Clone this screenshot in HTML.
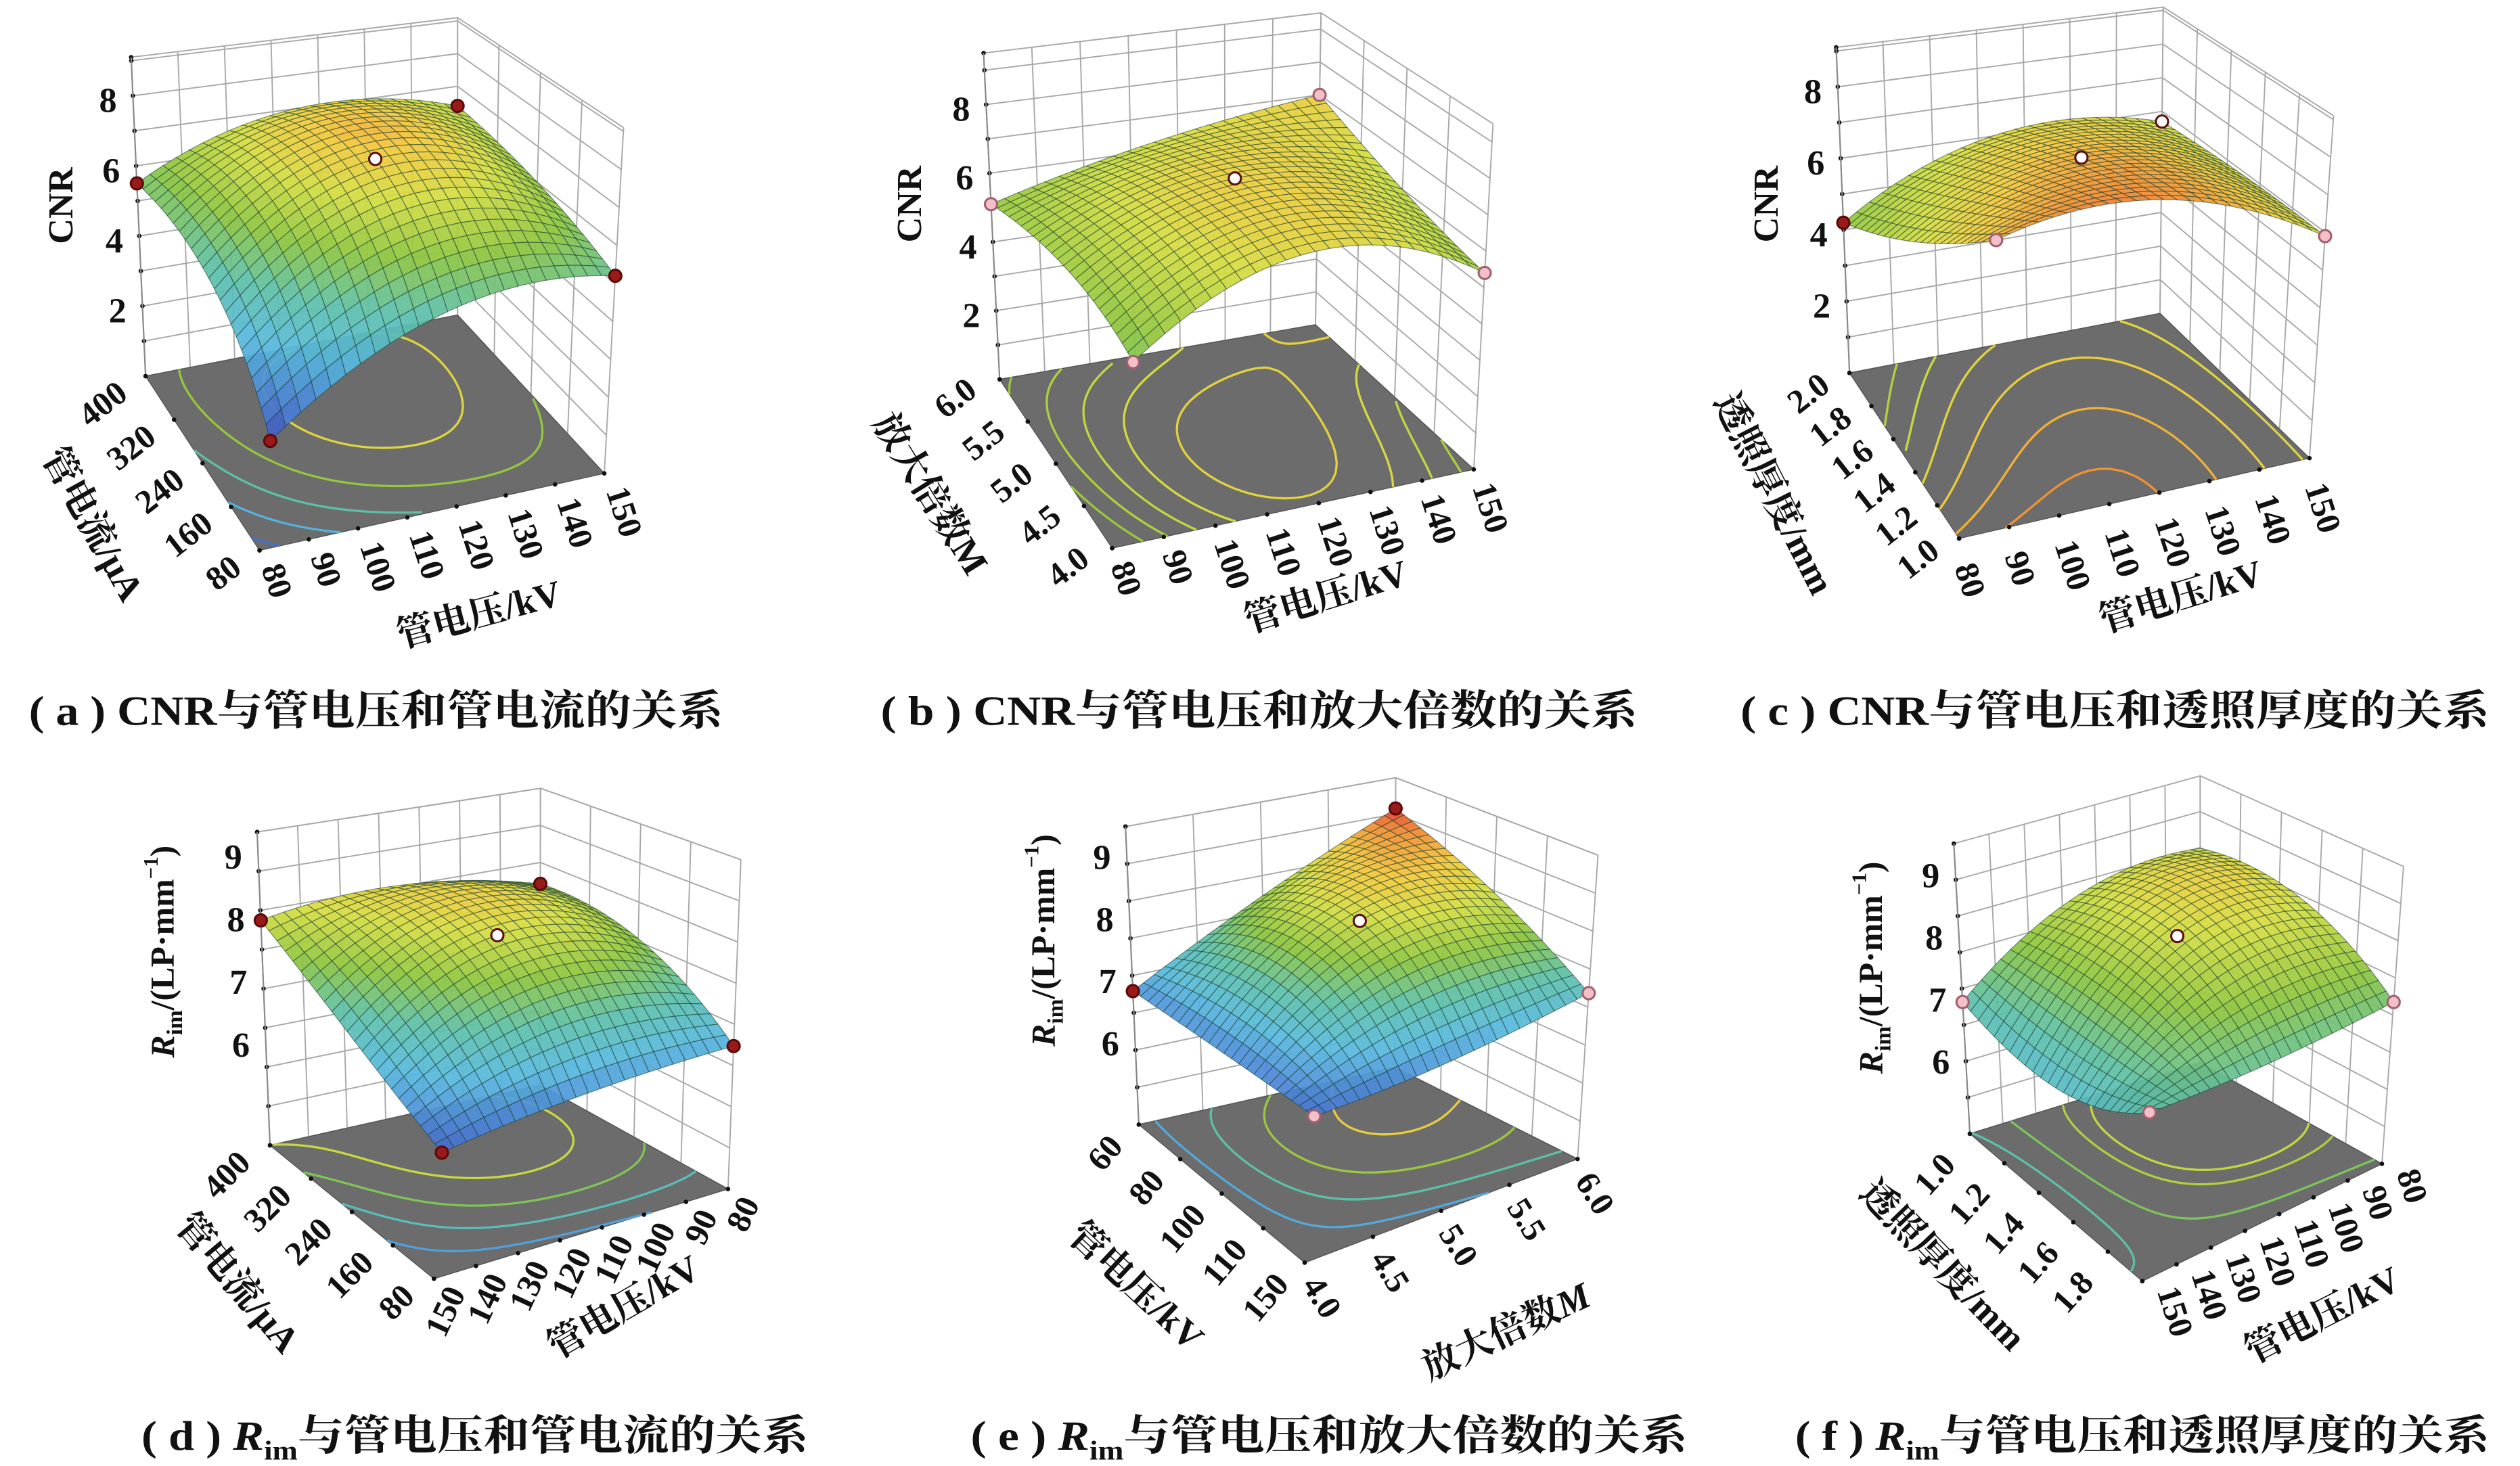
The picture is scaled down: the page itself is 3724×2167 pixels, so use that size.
<!DOCTYPE html>
<html><head><meta charset="utf-8">
<style>
html,body{margin:0;padding:0;background:#fff}
svg{display:block}
text{font-family:"Liberation Serif","Noto Serif CJK SC",serif;fill:#111;font-weight:bold}
</style></head>
<body>
<svg id="fig" xmlns="http://www.w3.org/2000/svg" width="3724" height="2167" viewBox="0 0 1568 912" preserveAspectRatio="none">
<rect width="1568" height="912" fill="#fff"/>
<g id="pa"></g>
<g id="pb"></g>
<g id="pc"></g>
<g id="pd"></g>
<g id="pe"></g>
<g id="pf"></g>

<!-- z-axis titles -->
<text font-size="22" text-anchor="middle" dominant-baseline="central" transform="translate(38,128) rotate(-90)">CNR</text>
<text font-size="22" text-anchor="middle" dominant-baseline="central" transform="translate(566,127) rotate(-90)">CNR</text>
<text font-size="22" text-anchor="middle" dominant-baseline="central" transform="translate(1099,127) rotate(-90)">CNR</text>
<text font-size="21" text-anchor="middle" dominant-baseline="central" transform="translate(101,592) rotate(-90)"><tspan font-style="italic">R</tspan><tspan font-size="14" baseline-shift="sub">im</tspan>/(LP·mm<tspan font-size="13" baseline-shift="super">−1</tspan>)</text>
<text font-size="21" text-anchor="middle" dominant-baseline="central" transform="translate(649,585) rotate(-90)"><tspan font-style="italic">R</tspan><tspan font-size="14" baseline-shift="sub">im</tspan>/(LP·mm<tspan font-size="13" baseline-shift="super">−1</tspan>)</text>
<text font-size="21" text-anchor="middle" dominant-baseline="central" transform="translate(1164,602) rotate(-90)"><tspan font-style="italic">R</tspan><tspan font-size="14" baseline-shift="sub">im</tspan>/(LP·mm<tspan font-size="13" baseline-shift="super">−1</tspan>)</text>

<!-- floor axis titles -->
<text font-size="23" text-anchor="middle" dominant-baseline="central" transform="translate(298,382) rotate(-15)">管电压/kV</text>
<text font-size="23" text-anchor="middle" dominant-baseline="central" transform="translate(58,326) rotate(61)">管电流/μA</text>
<text font-size="23" text-anchor="middle" dominant-baseline="central" transform="translate(825,371) rotate(-17)">管电压/kV</text>
<text font-size="23" text-anchor="middle" dominant-baseline="central" transform="translate(579,307) rotate(58)">放大倍数M</text>
<text font-size="23" text-anchor="middle" dominant-baseline="central" transform="translate(1357,371) rotate(-17)">管电压/kV</text>
<text font-size="23" text-anchor="middle" dominant-baseline="central" transform="translate(1104,307) rotate(63)">透照厚度/mm</text>
<text font-size="23" text-anchor="middle" dominant-baseline="central" transform="translate(388,813) rotate(-30)">管电压/kV</text>
<text font-size="23" text-anchor="middle" dominant-baseline="central" transform="translate(148,798) rotate(50)">管电流/μA</text>
<text font-size="23" text-anchor="middle" dominant-baseline="central" transform="translate(937,828) rotate(-25)">放大倍数<tspan font-style="italic">M</tspan></text>
<text font-size="23" text-anchor="middle" dominant-baseline="central" transform="translate(707,800) rotate(43)">管电压/kV</text>
<text font-size="23" text-anchor="middle" dominant-baseline="central" transform="translate(1445,818) rotate(-27)">管电压/kV</text>
<text font-size="23" text-anchor="middle" dominant-baseline="central" transform="translate(1209,787) rotate(46)">透照厚度/mm</text>

<!-- captions -->
<text x="18" y="451" font-size="26" textLength="432" lengthAdjust="spacingAndGlyphs">( a ) CNR与管电压和管电流的关系</text>
<text x="548" y="451" font-size="26" textLength="471" lengthAdjust="spacingAndGlyphs">( b ) CNR与管电压和放大倍数的关系</text>
<text x="1083" y="451" font-size="26" textLength="466" lengthAdjust="spacingAndGlyphs">( c ) CNR与管电压和透照厚度的关系</text>
<text x="88" y="902" font-size="26" textLength="415" lengthAdjust="spacingAndGlyphs">( d ) <tspan font-style="italic">R</tspan><tspan font-size="17" dy="6">im</tspan><tspan dy="-6">与管电压和管电流的关系</tspan></text>
<text x="604" y="902" font-size="26" textLength="446" lengthAdjust="spacingAndGlyphs">( e ) <tspan font-style="italic">R</tspan><tspan font-size="17" dy="6">im</tspan><tspan dy="-6">与管电压和放大倍数的关系</tspan></text>
<text x="1117" y="902" font-size="26" textLength="432" lengthAdjust="spacingAndGlyphs">( f ) <tspan font-style="italic">R</tspan><tspan font-size="17" dy="6">im</tspan><tspan dy="-6">与管电压和透照厚度的关系</tspan></text>
</svg>

<script>
// ---------- data ----------
const voltTicks = ['80','90','100','110','120','130','140','150'];
const voltTicksRev = ['150','140','130','120','110','100','90','80'];
const voltTicksE = ['150','110','100','80','60'];
const currTicks = ['80','160','240','320','400'];
const magTicks = ['4.0','4.5','5.0','5.5','6.0'];
const thickTicks = ['1.0','1.2','1.4','1.6','1.8','2.0'];
const thickTicksF = ['','1.8','1.6','1.4','1.2','1.0'];
const cnrTicks = [2, 4, 6, 8];
const rimTicks = [6, 7, 8, 9];

// response surface heights on a 3x3 design grid (rows: front->back along left axis, cols: front->right)
const surfA = [[2.6, 5.0, 5.2], [4.8, 7.3, 6.0], [5.5, 7.0, 6.4]];
const surfB = [[4.6, 6.7, 5.4], [5.3, 7.0, 6.0], [5.1, 6.25, 7.0]];
const surfC = [[7.1, 7.5, 5.9], [5.5, 7.06, 5.9], [4.2, 6.05, 5.7]];
const surfD = [[6.08, 6.4, 6.57], [6.88, 8.04, 7.57], [7.99, 8.17, 7.79]];
const surfE = [[6.66, 6.87, 7.32], [6.75, 8.27, 8.27], [6.85, 7.97, 8.99]];
const surfF = [[7.12, 7.17, 7.39], [6.6, 8.28, 8.31], [6.97, 8.15, 8.34]];

const levelsA = [3, 4, 5, 6, 7];
const levelsB = [5.2, 5.6, 6.0, 6.4, 6.8];
const levelsC = [5.0, 5.5, 6.0, 6.5, 7.0, 7.4];
const levelsD = [6.5, 7.0, 7.5, 8.0];
const levelsE = [7.0, 7.5, 8.0, 8.5];
const levelsF = [7.0, 7.5, 8.0, 8.2];

// design points: [u, v, kind]
const ptsA = [[0,0,'r'],[1,0,'r'],[1,1,'r'],[0,1,'r'],[0.5,0.5,'w']];
const ptsB = [[0,0,'p'],[1,0,'p'],[1,1,'p'],[0,1,'p'],[0.5,0.5,'w']];
const ptsC = [[0,0,'p'],[1,0,'p'],[1,1,'w'],[0,1,'r'],[0.5,0.5,'w']];
const ptsD = [[0,0,'r'],[1,0,'r'],[1,1,'r'],[0,1,'r'],[0.5,0.5,'w']];
const ptsE = [[0,0,'p'],[1,0,'p'],[1,1,'r'],[0,1,'r'],[0.5,0.5,'w']];
const ptsF = [[0,0,'p'],[1,0,'p'],[0,1,'p'],[0.5,0.5,'w']];

// ---------- geometry / style ----------
const panels = [
 {id:'pa', floor:{F:[161.5,342.4],R:[376,294.5],B:[284.7,196],L:[90.6,234]}, top:{L:[81.6,35.6],B:[284.7,11],R:[388,79.4]},
  zmin:0, zmax:9.1, zStep:1, grid:surfA, cmin:2.3, cmax:8.3, levels:levelsA, pts:ptsA, zTicks:cnrTicks, zLabOff:3, nL:7, nR:4,
  fr:{labels:voltTicks, off:[1,11], rot:72, anchor:'start'}, fl:{labels:currTicks, off:[-10,13], rot:-38, anchor:'end'}},
 {id:'pb', floor:{F:[692,341],R:[917,292],B:[818.5,202],L:[622,236]}, top:{L:[612,33],B:[822,8],R:[929,77]},
  zmin:0, zmax:9.5, zStep:1, grid:surfB, cmin:-0.5, cmax:8.6, levels:levelsB, pts:ptsB, zTicks:cnrTicks, zLabOff:3, nL:7, nR:4,
  fr:{labels:voltTicks, off:[-1,11], rot:72, anchor:'start'}, fl:{labels:magTicks, off:[-13,9], rot:-38, anchor:'end'}},
 {id:'pc', floor:{F:[1219,335],R:[1437,285],B:[1344,195],L:[1150.8,232]}, top:{L:[1142.5,29.5],B:[1346,4.4],R:[1452,72]},
  zmin:0, zmax:9.1, zStep:1, grid:surfC, cmin:-1.8, cmax:8.2, levels:levelsC, pts:ptsC, zTicks:cnrTicks, zLabOff:3, nL:7, nR:5,
  fr:{labels:voltTicks, off:[-3,18], rot:72, anchor:'start'}, fl:{labels:thickTicks, off:[-11,10], rot:-38, anchor:'end'}},
 {id:'pd', floor:{F:[270,795.5],R:[453,739.7],B:[336,675],L:[168,712.5]}, top:{L:[160,517.6],B:[336.3,490.4],R:[461,534.8]},
  zmin:4.4, zmax:9.4, zStep:0.625, grid:surfD, cmin:5.77, cmax:8.84, levels:levelsD, pts:ptsD, zTicks:rimTicks, zLabOff:0, nL:7, nR:4,
  fr:{labels:voltTicksRev, off:[20,9], rot:-65, anchor:'end'}, fl:{labels:currTicks, off:[-11,12], rot:-45, anchor:'end'}},
 {id:'pe', floor:{F:[811.8,785.5],R:[981.6,721],B:[868,664],L:[708.6,699.6]}, top:{L:[700.3,514.2],B:[868.4,483.8],R:[994.3,532]},
  zmin:4.7, zmax:9.5, zStep:0.6, grid:surfE, cmin:6.3, cmax:8.99, levels:levelsE, pts:ptsE, zTicks:rimTicks, zLabOff:0, nL:4, nR:4,
  fr:{labels:magTicks, off:[-2,14], rot:58, anchor:'start'}, fl:{labels:voltTicksE, off:[-9,14], rot:-50, anchor:'end'}},
 {id:'pf', floor:{F:[1333,797],R:[1482.1,724],B:[1369,661],L:[1225.7,705.3]}, top:{L:[1215.7,524.8],B:[1369,482.7],R:[1495.5,539]},
  zmin:4.85, zmax:9.52, zStep:0.584, grid:surfF, cmin:5.08, cmax:9.43, levels:levelsF, pts:ptsF, zTicks:rimTicks, zLabOff:0, nL:7, nR:5,
  fr:{labels:voltTicksRev, off:[9,6], rot:72, anchor:'start'}, fl:{labels:thickTicksF, off:[-8,20], rot:-48, anchor:'end'}}
];

const cmapStops = [[0,[59,52,168]],[0.15,[74,127,214]],[0.3,[86,184,222]],[0.45,[92,192,168]],[0.6,[140,196,60]],
                   [0.75,[212,220,64]],[0.85,[242,200,58]],[0.93,[240,138,48]],[1,[224,58,40]]];

const NS = 'http://www.w3.org/2000/svg';
function mk(tag, attrs, parent){
  const el = document.createElementNS(NS, tag);
  for (const k in attrs) el.setAttribute(k, attrs[k]);
  parent.appendChild(el);
  return el;
}
function cmap(t){
  t = Math.max(0, Math.min(1, t));
  for (let i = 1; i < cmapStops.length; i++){
    if (t <= cmapStops[i][0]){
      const a = cmapStops[i-1], b = cmapStops[i];
      const f = (t - a[0]) / (b[0] - a[0]);
      const c = a[1].map((v, k) => Math.round(v + (b[1][k] - v) * f));
      return 'rgb(' + c.join(',') + ')';
    }
  }
  return 'rgb(224,58,40)';
}
function bil(c, u, v){
  return [(1-u)*(1-v)*c.F[0] + u*(1-v)*c.R[0] + u*v*c.B[0] + (1-u)*v*c.L[0],
          (1-u)*(1-v)*c.F[1] + u*(1-v)*c.R[1] + u*v*c.B[1] + (1-u)*v*c.L[1]];
}
function lag(t){ return [2*(t-0.5)*(t-1), -4*t*(t-1), 2*t*(t-0.5)]; }
function surf(g, u, v){
  const lu = lag(u), lv = lag(v);
  let s = 0;
  for (let j = 0; j < 3; j++) for (let i = 0; i < 3; i++) s += g[j][i] * lu[i] * lv[j];
  return s;
}
function fmt(p){ return p[0].toFixed(2) + ',' + p[1].toFixed(2); }

panels.forEach(P => {
  const g = document.getElementById(P.id);
  const T = {L:P.top.L, B:P.top.B, R:P.top.R,
             F:[P.top.L[0] + P.top.R[0] - P.top.B[0], P.top.L[1] + P.top.R[1] - P.top.B[1]]};
  const proj = (u, v, z) => {
    const f = bil(P.floor, u, v), t = bil(T, u, v);
    const k = (z - P.zmin) / (P.zmax - P.zmin);
    return [f[0] + (t[0] - f[0]) * k, f[1] + (t[1] - f[1]) * k];
  };

  // walls
  const walls = mk('g', {stroke:'#a8a8a8', 'stroke-width':0.8, fill:'none'}, g);
  
  
  for (let k = 0; k <= P.nL; k++){
    const u = k / P.nL;
    const ln = mk('line', {}, walls);
    const a = proj(u, 1, P.zmin), b = proj(u, 1, P.zmax);
    ln.setAttribute('x1', a[0]); ln.setAttribute('y1', a[1]); ln.setAttribute('x2', b[0]); ln.setAttribute('y2', b[1]);
    
    
  }
  for (let k = 0; k <= P.nR; k++){
    const v = k / P.nR;
    const ln = mk('line', {}, walls);
    const a = proj(1, v, P.zmin), b = proj(1, v, P.zmax);
    ln.setAttribute('x1', a[0]); ln.setAttribute('y1', a[1]); ln.setAttribute('x2', b[0]); ln.setAttribute('y2', b[1]);
    
    
  }
  const zLevels = [];
  for (let z = P.zmin; z <= P.zmax + 1e-6; z += P.zStep) zLevels.push(z);
  zLevels.push(P.zmax);
  zLevels.forEach(z => {
    const pl = mk('polyline', {points: fmt(proj(0,1,z)) + ' ' + fmt(proj(1,1,z)) + ' ' + fmt(proj(1,0,z))}, walls);
    
    
    const p = proj(0, 1, z);
    const d = mk('circle', {cx:p[0], cy:p[1], r:1.4, fill:'#111', stroke:'none'}, g);
    
    
  });
  const zl = mk('line', {}, g);
  const za = proj(0,1,P.zmin), zb = proj(0,1,P.zmax);
  zl.setAttribute('x1', za[0]); zl.setAttribute('y1', za[1]); zl.setAttribute('x2', zb[0]); zl.setAttribute('y2', zb[1]);
  zl.setAttribute('stroke', '#888'); zl.setAttribute('stroke-width', 0.9);
  
  

  // z tick labels
  P.zTicks.forEach(z => {
    const p = proj(0, 1, z);
    const t = mk('text', {x:p[0] - 10, y:p[1] + P.zLabOff, 'font-size':22, 'text-anchor':'end', 'dominant-baseline':'central'}, g);
    t.textContent = String(z);
    
    
  });

  // floor
  const fl = mk('polygon', {points:[P.floor.F, P.floor.R, P.floor.B, P.floor.L].map(fmt).join(' '), fill:'#6c6c6c', stroke:'#555', 'stroke-width':0.6}, g);
  
  

  // contours on floor (marching squares)
  const M = 40;
  const val = [];
  for (let j = 0; j <= M; j++){ val.push([]); for (let i = 0; i <= M; i++) val[j].push(surf(P.grid, i/M, j/M)); }
  P.levels.forEach(L => {
    let d = '';
    for (let j = 0; j < M; j++) for (let i = 0; i < M; i++){
      const c = [[i,j,val[j][i]],[i+1,j,val[j][i+1]],[i+1,j+1,val[j+1][i+1]],[i,j+1,val[j+1][i]]];
      const pts = [];
      for (let e = 0; e < 4; e++){
        const a = c[e], b = c[(e+1)%4];
        if ((a[2] - L) * (b[2] - L) < 0){
          const t = (L - a[2]) / (b[2] - a[2]);
          pts.push(proj((a[0] + (b[0]-a[0])*t)/M, (a[1] + (b[1]-a[1])*t)/M, P.zmin));
        }
      }
      if (pts.length >= 2) d += 'M' + fmt(pts[0]) + 'L' + fmt(pts[1]);
      if (pts.length === 4) d += 'M' + fmt(pts[2]) + 'L' + fmt(pts[3]);
    }
    const cp = mk('path', {d:d, fill:'none', stroke:cmap((L - P.cmin)/(P.cmax - P.cmin)), 'stroke-width':1.4}, g);
    
    
  });

  // floor axis ticks & labels
  [['fr', P.fr], ['fl', P.fl]].forEach(([kind, ax]) => {
    const n = ax.labels.length;
    ax.labels.forEach((lab, k) => {
      const f = k / (n - 1);
      const p = kind === 'fr' ? proj(f, 0, P.zmin) : proj(0, f, P.zmin);
      const dot = mk('circle', {cx:p[0], cy:p[1], r:1.4, fill:'#111'}, g);
      
      
      if (!lab) return;
      const x = p[0] + ax.off[0], y = p[1] + ax.off[1];
      const t = mk('text', {x:x, y:y, 'font-size':21, 'text-anchor':ax.anchor, transform:'rotate(' + ax.rot + ' ' + x + ' ' + y + ')'}, g);
      t.textContent = lab;
      
      
    });
  });

  // surface mesh
  const N = 24;
  const cells = [];
  for (let j = 0; j < N; j++) for (let i = 0; i < N; i++){
    const u0 = i/N, u1 = (i+1)/N, v0 = j/N, v1 = (j+1)/N;
    const zs = [surf(P.grid,u0,v0), surf(P.grid,u1,v0), surf(P.grid,u1,v1), surf(P.grid,u0,v1)];
    cells.push({d:u0 + v0, pts:[proj(u0,v0,zs[0]), proj(u1,v0,zs[1]), proj(u1,v1,zs[2]), proj(u0,v1,zs[3])],
                z:(zs[0]+zs[1]+zs[2]+zs[3])/4});
  }
  cells.sort((a, b) => b.d - a.d);
  const sg = mk('g', {}, g);
  
  
  cells.forEach(c => {
    const q = mk('polygon', {points:c.pts.map(fmt).join(' '), fill:cmap((c.z - P.cmin)/(P.cmax - P.cmin)),
      'fill-opacity':0.93, stroke:'rgba(25,60,45,0.55)', 'stroke-width':0.5}, sg);
    
    
  });

  // design points
  P.pts.forEach(pt => {
    const p = proj(pt[0], pt[1], surf(P.grid, pt[0], pt[1]));
    const fill = pt[2] === 'r' ? '#9a1a1a' : (pt[2] === 'p' ? '#f4c0c8' : '#ffffff');
    const stroke = pt[2] === 'r' ? '#5a0a0a' : (pt[2] === 'p' ? '#a06070' : '#5a1010');
    const c = mk('circle', {cx:p[0], cy:p[1], r:3.8, fill:fill, stroke:stroke, 'stroke-width':1.3}, g);
    
    
  });
});
</script>
</body></html>
